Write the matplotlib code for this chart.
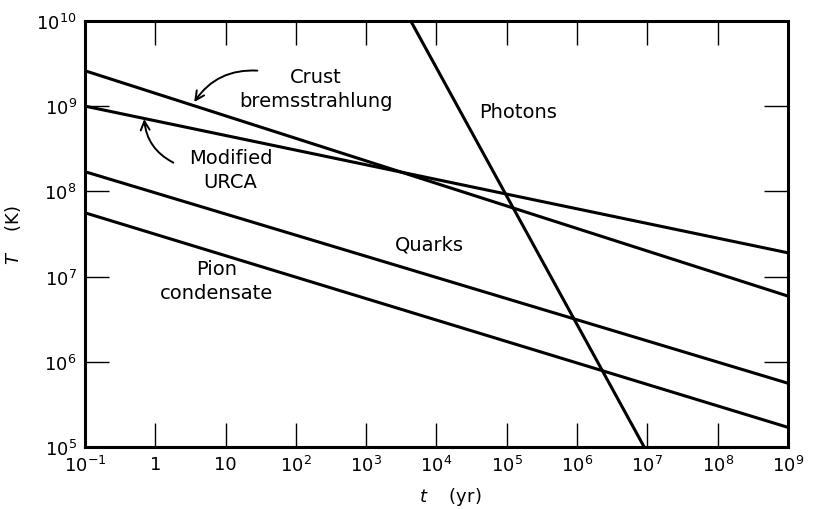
import matplotlib.pyplot as plt
import numpy as np
from matplotlib.ticker import FixedLocator, NullLocator

# endpoints: (t in yr, T in K)
crust_t = [1e-1, 1e9]
crust_T = [2.6e9, 5.9e6]
urca_t = [1e-1, 1e9]
urca_T = [1.0e9, 1.9e7]
quarks_t = [1e-1, 1e9]
quarks_T = [1.7e8, 5.6e5]
pion_t = [1e-1, 1e9]
pion_T = [5.6e7, 1.7e5]
photons_t = [4.3e3, 9.0e6]
photons_T = [1e10, 1e5]

xticks = [1e-1, 1, 10, 1e2, 1e3, 1e4, 1e5, 1e6, 1e7, 1e8, 1e9]
xlabels = ["$10^{-1}$", "1", "10", "$10^2$", "$10^3$", "$10^4$", "$10^5$",
           "$10^6$", "$10^7$", "$10^8$", "$10^9$"]
yticks = [1e5, 1e6, 1e7, 1e8, 1e9, 1e10]
ylabels = ["$10^5$", "$10^6$", "$10^7$", "$10^8$", "$10^9$", "$10^{10}$"]

plt.rcParams['mathtext.fontset'] = 'dejavusans'
fig = plt.figure(figsize=(8.13, 5.10), dpi=100)
ax = fig.add_axes([0.1046, 0.1216, 0.8646, 0.8354])

for t, T in [(crust_t, crust_T), (urca_t, urca_T), (quarks_t, quarks_T),
             (pion_t, pion_T), (photons_t, photons_T)]:
    ax.plot(t, T, color="black", lw=2.2, solid_capstyle="butt")

ax.set_xscale("log")
ax.set_yscale("log")
ax.set_xlim(1e-1, 1e9)
ax.set_ylim(1e5, 1e10)
ax.xaxis.set_major_locator(FixedLocator(xticks))
ax.xaxis.set_minor_locator(NullLocator())
ax.yaxis.set_major_locator(FixedLocator(yticks))
ax.yaxis.set_minor_locator(NullLocator())
ax.set_xticklabels(xlabels, fontsize=13)
ax.set_yticklabels(ylabels, fontsize=13)
ax.tick_params(direction="in", length=17, width=1.0, top=True, right=True, pad=6)
for s in ax.spines.values():
    s.set_linewidth(2.2)

ax.set_xlabel(r"$t$    (yr)", fontsize=13)
ax.set_ylabel(r"$T$    (K)", fontsize=13)
ax.xaxis.set_label_coords(0.52, -0.09)
ax.yaxis.set_label_coords(-0.088, 0.5)

fs = 14
ax.text(190, 1.62e9, "Crust\nbremsstrahlung", ha="center", va="center", fontsize=fs, linespacing=1.35)
ax.text(1.46e5, 8.7e8, "Photons", ha="center", va="center", fontsize=fs)
ax.text(11.8, 1.8e8, "Modified\nURCA", ha="center", va="center", fontsize=fs, linespacing=1.35)
ax.text(7.8e3, 2.4e7, "Quarks", ha="center", va="center", fontsize=fs)
ax.text(7.5, 8.9e6, "Pion\ncondensate", ha="center", va="center", fontsize=fs, linespacing=1.35)

ax.annotate("", xy=(3.4, 1.05e9), xytext=(31, 2.6e9),
            arrowprops=dict(arrowstyle="->", lw=1.4, color="black",
                            connectionstyle="arc3,rad=0.3", mutation_scale=16))
ax.annotate("", xy=(0.69, 7.6e8), xytext=(1.96, 2.1e8),
            arrowprops=dict(arrowstyle="->", lw=1.4, color="black",
                            connectionstyle="arc3,rad=-0.3", mutation_scale=16))

fig.savefig("out.png", dpi=100)
